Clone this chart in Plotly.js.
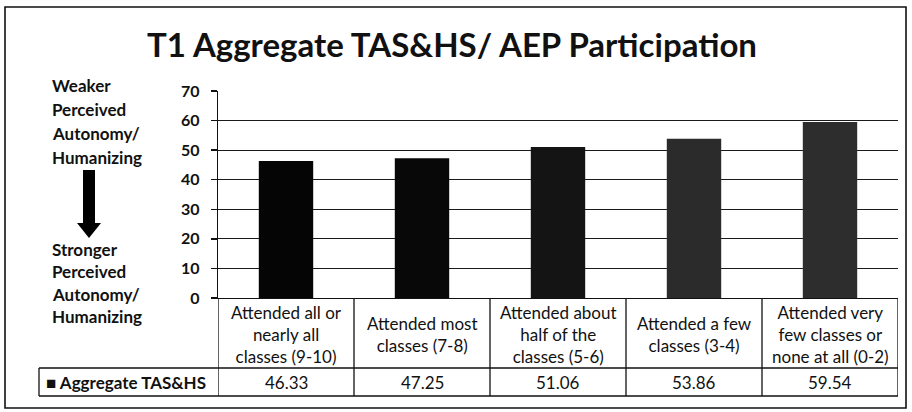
<!DOCTYPE html>
<html>
<head>
<meta charset="utf-8">
<script src="https://cdn.plot.ly/plotly-3.0.1.min.js"></script>
<style>html,body{margin:0;padding:0;background:#fff;}#chart{width:912px;height:412px;}</style>
</head>
<body>
<div id="chart"></div>
<script>
// ---- data ----
const chartTitle = "T1 Aggregate TAS&HS/ AEP Participation";
const seriesName = "Aggregate TAS&HS";
const categories = ["all", "most", "half", "few", "none"];
const categoryLabels = [
  "Attended all or<br>nearly all<br>classes (9-10)",
  "Attended most<br>classes (7-8)",
  "Attended about<br>half of the<br>classes (5-6)",
  "Attended a few<br>classes (3-4)",
  "Attended very<br>few classes or<br>none at all (0-2)"
];
const values = [46.33, 47.25, 51.06, 53.86, 59.54];
const yTicks = [0, 10, 20, 30, 40, 50, 60, 70];
const topNote = ["Weaker", "Perceived", "Autonomy/", "Humanizing"];
const bottomNote = ["Stronger", "Perceived", "Autonomy/", "Humanizing"];

// ---- geometry helpers (pixels -> paper) ----
const L = 218, R = 898, T = 91, B = 298;
const W = R - L, H = B - T;
const px = p => (p - L) / W;
const py = p => (B - p) / H;

const FONT = "Lato, 'Open Sans', sans-serif";
const barColors = ["#050505", "#080808", "#141414", "#2b2b2b", "#2d2d2d"];

const trace = {
  type: "bar",
  x: categories,
  y: values,
  name: seriesName,
  marker: {color: barColors, line: {width: 0}},
  width: 0.4,
  showlegend: false,
  hoverinfo: "none"
};

const shapes = [];
const line = {color: "#111", width: 1.3};
// outer border
shapes.push({type: "rect", xref: "paper", yref: "paper", x0: px(5), x1: px(906), y0: py(408), y1: py(7), line: {color: "#111", width: 1.6}});
// table verticals
for (let i = 0; i <= categories.length; i++) {
  shapes.push({type: "line", xref: "x", yref: "paper", x0: i - 0.5, x1: i - 0.5, y0: 0, y1: py(396), line});
}
// table horizontals
shapes.push({type: "line", xref: "paper", yref: "paper", x0: px(39), x1: 1, y0: py(368), y1: py(368), line});
shapes.push({type: "line", xref: "paper", yref: "paper", x0: px(39), x1: 1, y0: py(396), y1: py(396), line});
shapes.push({type: "line", xref: "paper", yref: "paper", x0: px(39), x1: px(39), y0: py(368), y1: py(396), line});
// arrow
const ax = 89;
const arrowPts = [[ax - 6, 170], [ax + 6, 170], [ax + 6, 223], [ax + 12, 223], [ax, 238], [ax - 12, 223], [ax - 6, 223]];
shapes.push({type: "path", xref: "paper", yref: "paper",
  path: "M" + arrowPts.map(p => px(p[0]) + "," + py(p[1])).join(" L") + " Z",
  fillcolor: "#000", line: {width: 0}});

const annotations = [];
// category labels and values
categories.forEach((c, i) => {
  annotations.push({xref: "x", yref: "paper", x: c, y: py(334), text: categoryLabels[i], showarrow: false,
    xanchor: "center", yanchor: "middle", align: "center", font: {family: FONT, size: 17, color: "#111"}});
  annotations.push({xref: "x", yref: "paper", x: c, y: py(382), text: values[i].toFixed(2), showarrow: false,
    xanchor: "center", yanchor: "middle", font: {family: FONT, size: 17, color: "#111"}});
});
// legend cell
annotations.push({xref: "paper", yref: "paper", x: px(44), y: py(382), text: "\u25A0 " + seriesName, showarrow: false,
  xanchor: "left", yanchor: "middle", font: {family: FONT, size: 17, color: "#111", weight: "bold"}});
// side notes
topNote.forEach((t, i) => annotations.push({xref: "paper", yref: "paper", x: px(50), y: py(85 + i * 24), text: t,
  showarrow: false, xanchor: "left", yanchor: "middle", font: {family: FONT, size: 17, color: "#111", weight: "bold"}}));
bottomNote.forEach((t, i) => annotations.push({xref: "paper", yref: "paper", x: px(50), y: py(249 + i * 22.5), text: t,
  showarrow: false, xanchor: "left", yanchor: "middle", font: {family: FONT, size: 17, color: "#111", weight: "bold"}}));

const layout = {
  width: 912, height: 412,
  margin: {l: L, r: 912 - R, t: T, b: 412 - B, pad: 0},
  paper_bgcolor: "#fff", plot_bgcolor: "#fff",
  title: {text: chartTitle, xref: "container", yref: "container", x: 452 / 912, y: 1 - 45 / 412,
    xanchor: "center", yanchor: "middle", font: {family: FONT, size: 33, color: "#111", weight: "bold"}},
  xaxis: {type: "category", showticklabels: false, ticks: "", showline: true, linecolor: "#111", linewidth: 1.3,
    showgrid: false, zeroline: false, fixedrange: true, range: [-0.5, categories.length - 0.5]},
  yaxis: {range: [0, 70], tickvals: yTicks, ticks: "outside", ticklen: 6, tickcolor: "#111", tickwidth: 1.3,
    showline: true, linecolor: "#111", linewidth: 1.3, showgrid: true, gridcolor: "#1a1a1a", gridwidth: 1.2,
    zeroline: false, tickfont: {family: FONT, size: 16, color: "#111", weight: "bold"}, ticklabelstandoff: 8},
  shapes, annotations,
  showlegend: false
};

Plotly.newPlot("chart", [trace], layout, {staticPlot: true, displayModeBar: false});
</script>
</body>
</html>
